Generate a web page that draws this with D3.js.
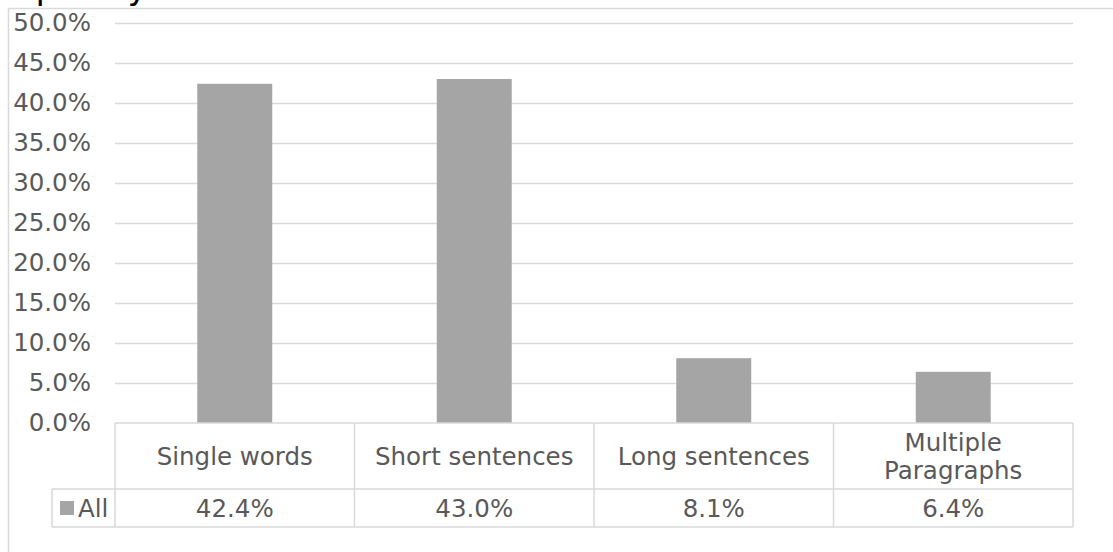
<!DOCTYPE html>
<html>
<head>
<meta charset="utf-8">
<script src="https://cdn.jsdelivr.net/npm/d3@7"></script>
<style>
  html, body { margin: 0; padding: 0; background: #fff; }
  svg { display: block; }
  text { font-family: "DejaVu Sans", Verdana, sans-serif; }
</style>
</head>
<body>
<svg id="chart" width="1113" height="552"></svg>
<script>
// Response length categories and their share of all responses
const categories = ["Single words", "Short sentences", "Long sentences", "Multiple Paragraphs"];
const categoryLines = [["Single words"], ["Short sentences"], ["Long sentences"], ["Multiple", "Paragraphs"]];
const seriesName = "All";
const values = [0.424, 0.430, 0.081, 0.064];
const valueLabels = ["42.4%", "43.0%", "8.1%", "6.4%"];
const yTicks = [0, 0.05, 0.10, 0.15, 0.20, 0.25, 0.30, 0.35, 0.40, 0.45, 0.50];
const chartTitle = "Frequency";

const svg = d3.select("#chart");
const gridColor = "#d9d9d9";
const textColor = "#595959";
const barColor = "#a5a5a5";
const fontSize = 24.5;

const plot = { left: 115, right: 1073, top: 23, bottom: 423 };
const table = { headerBottom: 489, rowBottom: 527, legendLeft: 52 };

// Chart frame and title (sits above the top edge)
svg.append("rect")
  .attr("x", 8.5).attr("y", 8.5)
  .attr("width", 1200).attr("height", 700)
  .attr("fill", "none").attr("stroke", gridColor).attr("stroke-width", 1.5);

svg.append("text")
  .attr("x", -28).attr("y", -1)
  .attr("font-size", 34).attr("fill", "#000")
  .text(chartTitle);

const x = d3.scaleBand()
  .domain(categories)
  .range([plot.left, plot.right])
  .paddingInner(0.687)
  .paddingOuter(0.687 / 2);

const cell = d3.scaleBand()
  .domain(categories)
  .range([plot.left, plot.right])
  .padding(0);

const y = d3.scaleLinear().domain([0, 0.5]).range([plot.bottom, plot.top]);

// Horizontal gridlines (skip zero line; the table top sits there)
svg.append("g")
  .selectAll("line")
  .data(yTicks.filter(d => d > 0))
  .join("line")
  .attr("x1", plot.left).attr("x2", plot.right)
  .attr("y1", d => Math.round(y(d)) + 0.5).attr("y2", d => Math.round(y(d)) + 0.5)
  .attr("stroke", gridColor).attr("stroke-width", 1.5);

// Y axis labels
const yAxis = d3.axisLeft(y).tickValues(yTicks).tickFormat(d3.format(".1%")).tickSize(0).tickPadding(0);
const yG = svg.append("g").attr("transform", "translate(91,0)").call(yAxis);
yG.select(".domain").remove();
yG.selectAll("text")
  .attr("font-size", fontSize).attr("fill", textColor)
  .attr("font-family", "'DejaVu Sans', Verdana, sans-serif");

// Bars
svg.append("g")
  .selectAll("rect")
  .data(values)
  .join("rect")
  .attr("x", (d, i) => x(categories[i]))
  .attr("y", d => y(d))
  .attr("width", x.bandwidth())
  .attr("height", d => y(0) - y(d))
  .attr("fill", barColor);

// Data table
const tg = svg.append("g").attr("fill", "none").attr("stroke", gridColor).attr("stroke-width", 1.5);
tg.append("line").attr("x1", plot.left).attr("x2", plot.right).attr("y1", plot.bottom).attr("y2", plot.bottom);
tg.append("line").attr("x1", table.legendLeft).attr("x2", plot.right).attr("y1", table.headerBottom).attr("y2", table.headerBottom);
tg.append("line").attr("x1", table.legendLeft).attr("x2", plot.right).attr("y1", table.rowBottom).attr("y2", table.rowBottom);
tg.append("line").attr("x1", table.legendLeft).attr("x2", table.legendLeft).attr("y1", table.headerBottom).attr("y2", table.rowBottom);
const bounds = categories.map(c => cell(c)).concat([plot.right]);
tg.selectAll("line.v")
  .data(bounds)
  .join("line")
  .attr("class", "v")
  .attr("x1", d => d).attr("x2", d => d)
  .attr("y1", plot.bottom).attr("y2", table.rowBottom);

// Header labels
const headerMid = (plot.bottom + table.headerBottom) / 2;
const lineH = 28;
svg.append("g")
  .selectAll("text")
  .data(categoryLines)
  .join("text")
  .attr("text-anchor", "middle")
  .attr("font-size", fontSize)
  .attr("fill", textColor)
  .each(function(lines, i) {
    const cx = cell(categories[i]) + cell.bandwidth() / 2;
    const start = headerMid - (lines.length - 1) * lineH / 2;
    d3.select(this).selectAll("tspan")
      .data(lines)
      .join("tspan")
      .attr("x", cx)
      .attr("y", (l, j) => start + j * lineH)
      .attr("dy", "0.35em")
      .text(l => l);
  });

// Value row
const rowMid = (table.headerBottom + table.rowBottom) / 2;
svg.append("g")
  .selectAll("text")
  .data(valueLabels)
  .join("text")
  .attr("x", (d, i) => cell(categories[i]) + cell.bandwidth() / 2)
  .attr("y", rowMid).attr("dy", "0.35em")
  .attr("text-anchor", "middle")
  .attr("font-size", fontSize)
  .attr("fill", textColor)
  .text(d => d);

// Legend key in the row header
svg.append("rect")
  .attr("x", 60).attr("y", rowMid - 7)
  .attr("width", 14).attr("height", 14)
  .attr("fill", barColor);
svg.append("text")
  .attr("x", 78).attr("y", rowMid).attr("dy", "0.35em")
  .attr("font-size", fontSize).attr("fill", textColor)
  .text(seriesName);
</script>
</body>
</html>
